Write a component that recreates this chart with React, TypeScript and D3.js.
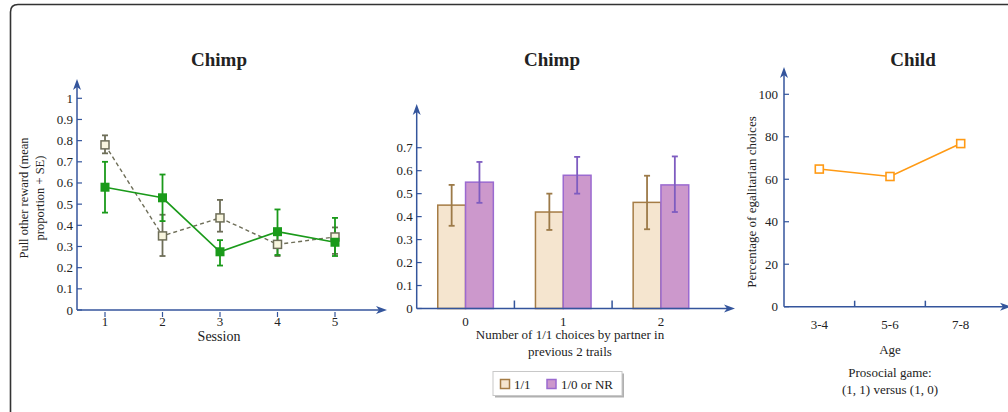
import * as d3 from 'd3';

// Panel A: chimp sessions
const sessions = [1, 2, 3, 4, 5];
const greenMean = [0.58, 0.53, 0.275, 0.37, 0.32];
const greenLo = [0.46, 0.42, 0.21, 0.26, 0.255];
const greenHi = [0.7, 0.64, 0.33, 0.475, 0.435];
const greyMean = [0.78, 0.35, 0.435, 0.31, 0.345];
const greyLo = [0.74, 0.255, 0.37, 0.255, 0.265];
const greyHi = [0.825, 0.45, 0.52, 0.36, 0.39];
const yTicksA = [0, 0.1, 0.2, 0.3, 0.4, 0.5, 0.6, 0.7, 0.8, 0.9, 1];

// Panel B: chimp bars
const groups = ['0', '1', '2'];
const seriesB = ['1/1', '1/0 or NR'];
const beigeMean = [0.45, 0.42, 0.462];
const beigeLo = [0.36, 0.342, 0.345];
const beigeHi = [0.538, 0.5, 0.578];
const purpleMean = [0.55, 0.58, 0.538];
const purpleLo = [0.46, 0.5, 0.42];
const purpleHi = [0.638, 0.66, 0.662];
const yTicksB = [0, 0.1, 0.2, 0.3, 0.4, 0.5, 0.6, 0.7];

// Panel C: child
const ages = ['3-4', '5-6', '7-8'];
const childPct = [64.8, 61.3, 76.8];
const yTicksC = [0, 20, 40, 60, 80, 100];

const AXIS = '#34559c';
const FONT = '"Liberation Serif", "Times New Roman", serif';
const GREEN = '#1a9a1a';
const GREY = '#6e6e58';
const BEIGE_FILL = '#f5e5cf';
const BEIGE_STROKE = '#a57c45';
const PURPLE_FILL = '#cc98cc';
const PURPLE_STROKE = '#9b6ad0';
const ORANGE = '#ff9a14';

function Arrow({ x, y, dir }: { x: number; y: number; dir: 'up' | 'right' }) {
  const p = dir === 'up'
    ? `M${x},${y} L${x - 4},${y + 11} L${x},${y + 8} L${x + 4},${y + 11} Z`
    : `M${x},${y} L${x - 11},${y - 4} L${x - 8},${y} L${x - 11},${y + 4} Z`;
  return <path d={p} fill={AXIS} />;
}

function ErrBar({ x, lo, hi, color, w = 3 }: { x: number; lo: number; hi: number; color: string; w?: number }) {
  return (
    <g stroke={color} strokeWidth={1.8}>
      <line x1={x} x2={x} y1={lo} y2={hi} />
      <line x1={x - w} x2={x + w} y1={lo} y2={lo} />
      <line x1={x - w} x2={x + w} y1={hi} y2={hi} />
    </g>
  );
}

function PanelA() {
  const x = d3.scaleLinear().domain([1, 5]).range([105, 335]);
  const y = d3.scaleLinear().domain([0, 1]).range([310, 98.3]);
  const x0 = 77;
  const line = d3.line<number>().x((_, i) => x(sessions[i])).y((d) => y(d));
  return (
    <g>
      <text x={219} y={66} textAnchor="middle" fontWeight="bold" fontSize={19}>Chimp</text>
      {/* grey dashed series */}
      <path d={line(greyMean) ?? ''} fill="none" stroke={GREY} strokeWidth={1.4} strokeDasharray="4,3" />
      {sessions.map((s, i) => (
        <ErrBar key={'ge' + s} x={x(s)} lo={y(greyLo[i])} hi={y(greyHi[i])} color={GREY} />
      ))}
      {/* green solid series */}
      <path d={line(greenMean) ?? ''} fill="none" stroke={GREEN} strokeWidth={1.6} />
      {sessions.map((s, i) => (
        <ErrBar key={'ne' + s} x={x(s)} lo={y(greenLo[i])} hi={y(greenHi[i])} color={GREEN} />
      ))}
      {sessions.map((s, i) => (
        <rect key={'gm' + s} x={x(s) - 4} y={y(greyMean[i]) - 4} width={8} height={8}
          fill="#f8f5de" stroke={GREY} strokeWidth={1.5} />
      ))}
      {sessions.map((s, i) => (
        <rect key={'nm' + s} x={x(s) - 4.5} y={y(greenMean[i]) - 4.5} width={9} height={9} fill={GREEN} />
      ))}
      {/* axes */}
      <line x1={x0} x2={x0} y1={y(0)} y2={86} stroke={AXIS} strokeWidth={1.5} />
      <Arrow x={x0} y={79} dir="up" />
      <line x1={x0} x2={380} y1={y(0)} y2={y(0)} stroke={AXIS} strokeWidth={1.5} />
      <Arrow x={387} y={y(0)} dir="right" />
      {yTicksA.map((t) => (
        <g key={'ya' + t}>
          <line x1={x0} x2={x0 + 5} y1={y(t)} y2={y(t)} stroke={AXIS} strokeWidth={1.2} />
          <text x={x0 - 4} y={y(t) + 4.5} textAnchor="end" fontSize={13}>{t}</text>
        </g>
      ))}
      {sessions.map((s) => (
        <g key={'xa' + s}>
          <line x1={x(s)} x2={x(s)} y1={y(0) + 2} y2={y(0) + 7} stroke={AXIS} strokeWidth={1.2} />
          <text x={x(s)} y={326} textAnchor="middle" fontSize={13}>{s}</text>
        </g>
      ))}
      <text x={219} y={341} textAnchor="middle" fontSize={14}>Session</text>
      <text transform="translate(28,198) rotate(-90)" textAnchor="middle" fontSize={12.5}>
        Pull other reward (mean
      </text>
      <text transform="translate(44,198) rotate(-90)" textAnchor="middle" fontSize={12.5}>
        proportion + SE)
      </text>
    </g>
  );
}

function PanelB() {
  const x0 = d3.scaleBand().domain(groups).range([416.7, 709.8]).paddingInner(0.431).paddingOuter(0.2155);
  const x1 = d3.scaleBand().domain(seriesB).range([0, x0.bandwidth()]);
  const y = d3.scaleLinear().domain([0, 0.7]).range([308.5, 147.7]);
  const ax = 416.7;
  const step = x0.step();
  const bars = [
    { key: seriesB[0], mean: beigeMean, lo: beigeLo, hi: beigeHi, fill: BEIGE_FILL, stroke: BEIGE_STROKE, err: '#9c7a48' },
    { key: seriesB[1], mean: purpleMean, lo: purpleLo, hi: purpleHi, fill: PURPLE_FILL, stroke: PURPLE_STROKE, err: '#7e5cc0' },
  ];
  return (
    <g>
      <text x={552} y={66} textAnchor="middle" fontWeight="bold" fontSize={19}>Chimp</text>
      {bars.map((b) =>
        groups.map((g, i) => {
          const bx = (x0(g) ?? 0) + (x1(b.key) ?? 0);
          return (
            <rect key={b.key + g} x={bx} y={y(b.mean[i])} width={x1.bandwidth()} height={y(0) - y(b.mean[i])}
              fill={b.fill} stroke={b.stroke} strokeWidth={1.5} />
          );
        })
      )}
      {bars.map((b) =>
        groups.map((g, i) => {
          const cx = (x0(g) ?? 0) + (x1(b.key) ?? 0) + x1.bandwidth() / 2;
          return <ErrBar key={'e' + b.key + g} x={cx} lo={y(b.lo[i])} hi={y(b.hi[i])} color={b.err} />;
        })
      )}
      <line x1={ax} x2={ax} y1={y(0)} y2={111} stroke={AXIS} strokeWidth={1.5} />
      <Arrow x={ax} y={104} dir="up" />
      <line x1={ax} x2={728} y1={y(0)} y2={y(0)} stroke={AXIS} strokeWidth={1.5} />
      <Arrow x={735} y={y(0)} dir="right" />
      {yTicksB.map((t) => (
        <g key={'yb' + t}>
          <line x1={ax} x2={ax + 5} y1={y(t)} y2={y(t)} stroke={AXIS} strokeWidth={1.2} />
          <text x={ax - 4} y={y(t) + 4.5} textAnchor="end" fontSize={13}>{t}</text>
        </g>
      ))}
      {groups.slice(1).map((g) => {
        const tx = (x0(g) ?? 0) + x0.bandwidth() / 2 - step / 2;
        return <line key={'tb' + g} x1={tx} x2={tx} y1={y(0)} y2={y(0) - 8} stroke={AXIS} strokeWidth={1.5} />;
      })}
      {groups.map((g) => (
        <text key={'lb' + g} x={(x0(g) ?? 0) + x0.bandwidth() / 2} y={326} textAnchor="middle" fontSize={13}>{g}</text>
      ))}
      <text x={570} y={339} textAnchor="middle" fontSize={13}>Number of 1/1 choices by partner in</text>
      <text x={570} y={356} textAnchor="middle" fontSize={13}>previous 2 trails</text>
      {/* legend */}
      <rect x={495} y={373.5} width={129} height={24} fill="#b0b0b0" />
      <rect x={493} y={371.5} width={129} height={24} fill="#fff" stroke="#c8c8c8" strokeWidth={1} />
      <rect x={500.5} y={379.5} width={9} height={9} fill={BEIGE_FILL} stroke={BEIGE_STROKE} strokeWidth={1.5} />
      <text x={514} y={388.5} fontSize={13}>{seriesB[0]}</text>
      <rect x={547} y={379.5} width={9} height={9} fill={PURPLE_FILL} stroke={PURPLE_STROKE} strokeWidth={1.5} />
      <text x={561} y={388.5} fontSize={13}>{seriesB[1]}</text>
    </g>
  );
}

function PanelC() {
  const x = d3.scalePoint().domain(ages).range([819.3, 960.7]);
  const y = d3.scaleLinear().domain([0, 100]).range([306.7, 94.3]);
  const ax = 784;
  const step = x.step();
  const line = d3.line<number>().x((_, i) => x(ages[i]) ?? 0).y((d) => y(d));
  return (
    <g>
      <text x={913} y={66} textAnchor="middle" fontWeight="bold" fontSize={19}>Child</text>
      <path d={line(childPct) ?? ''} fill="none" stroke={ORANGE} strokeWidth={1.6} />
      {ages.map((a, i) => (
        <rect key={'cm' + a} x={(x(a) ?? 0) - 4} y={y(childPct[i]) - 4} width={8} height={8}
          fill="#fff" stroke={ORANGE} strokeWidth={1.6} />
      ))}
      <line x1={ax} x2={ax} y1={y(0)} y2={74} stroke={AXIS} strokeWidth={1.5} />
      <Arrow x={ax} y={67} dir="up" />
      <line x1={ax} x2={1004} y1={y(0)} y2={y(0)} stroke={AXIS} strokeWidth={1.5} />
      <Arrow x={1011} y={y(0)} dir="right" />
      {yTicksC.map((t) => (
        <g key={'yc' + t}>
          <line x1={ax} x2={ax + 5} y1={y(t)} y2={y(t)} stroke={AXIS} strokeWidth={1.2} />
          <text x={ax - 6} y={y(t) + 4.5} textAnchor="end" fontSize={13}>{t}</text>
        </g>
      ))}
      {ages.slice(1).map((a) => {
        const tx = (x(a) ?? 0) - step / 2;
        return <line key={'tc' + a} x1={tx} x2={tx} y1={y(0)} y2={y(0) - 6} stroke={AXIS} strokeWidth={1.5} />;
      })}
      {ages.map((a) => (
        <text key={'lc' + a} x={x(a) ?? 0} y={329} textAnchor="middle" fontSize={13}>{a}</text>
      ))}
      <text transform="translate(756,202) rotate(-90)" textAnchor="middle" fontSize={13}>
        Percentage of egalitarian choices
      </text>
      <text x={890} y={354} textAnchor="middle" fontSize={13}>Age</text>
      <text x={890} y={377} textAnchor="middle" fontSize={13}>Prosocial game:</text>
      <text x={890} y={394} textAnchor="middle" fontSize={13}>(1, 1) versus (1, 0)</text>
    </g>
  );
}

export default function App() {
  return (
    <svg width={1008} height={412} style={{ position: 'absolute', left: 0, top: 0, background: '#fff' }}
      fontFamily={FONT} fill="#222">
      <path d="M10.5,430 L10.5,12 Q10.5,4.5 18,4.5 L1030,4.5" fill="none" stroke="#333" strokeWidth={1.6} />
      <PanelA />
      <PanelB />
      <PanelC />
    </svg>
  );
}
